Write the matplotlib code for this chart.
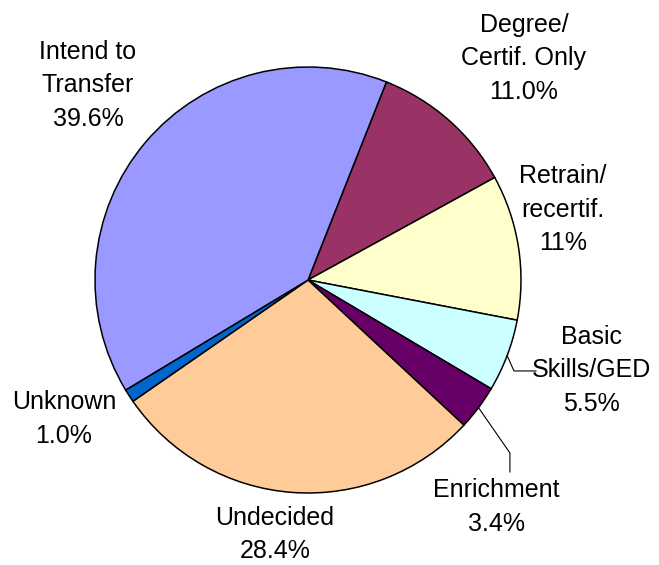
import numpy as np
import matplotlib.pyplot as plt

plt.rcParams['font.family'] = ['Liberation Sans', 'DejaVu Sans']

# === DATA === #
categories = ['Degree/\nCertif. Only', 'Retrain/\nrecertif.', 'Basic\nSkills/GED',
              'Enrichment', 'Undecided', 'Unknown', 'Intend to\nTransfer']
values = [11.0, 11.0, 5.5, 3.4, 28.4, 1.0, 39.6]
pct_labels = ['11.0%', '11%', '5.5%', '3.4%', '28.4%', '1.0%', '39.6%']
colors = ['#993366', '#FFFFCC', '#CCFFFF', '#660066', '#FFCC99', '#0066CC', '#9999FF']

# label centres (in pie-radius units)
label_pos = [(1.014, 1.042), (1.197, 0.329), (1.330, -0.423), (0.883, -1.066),
             (-0.155, -1.195), (-1.146, -0.653), (-1.033, 0.915)]

# === PLOTTING === #
fig = plt.figure(figsize=(6.59, 5.65), dpi=100)
ax = fig.add_axes([0, 0, 1, 1])

start = 68.4
wedges, _ = ax.pie(values, colors=colors, startangle=start, counterclock=False,
                   radius=1.0, center=(0, 0),
                   wedgeprops=dict(edgecolor='black', linewidth=1.1))

for txt, pct, (x, y) in zip(categories, pct_labels, label_pos):
    ax.text(x, y, txt + '\n' + pct, ha='center', va='center', fontsize=18,
            linespacing=1.5, multialignment='center')

# leader lines for the two small slices
total = sum(values)
cum = np.cumsum([0] + values)
def mid_point(i):
    ang = np.deg2rad(start - 360.0 * (cum[i] + values[i] / 2) / total)
    return np.cos(ang), np.sin(ang)

ex, ey = mid_point(2)
ax.plot([ex, 0.967, 1.070], [ey, -0.427, -0.427], color='black', lw=0.8)
ex, ey = mid_point(3)
ax.plot([ex, 0.948, 0.948], [ey, -0.812, -0.901], color='black', lw=0.8)

ax.set_xlim(-308 / 213, (659 - 308) / 213)
ax.set_ylim(-(565 - 280) / 213, 280 / 213)
ax.set_aspect('auto')
ax.axis('off')

plt.savefig('out.png', dpi=100)
